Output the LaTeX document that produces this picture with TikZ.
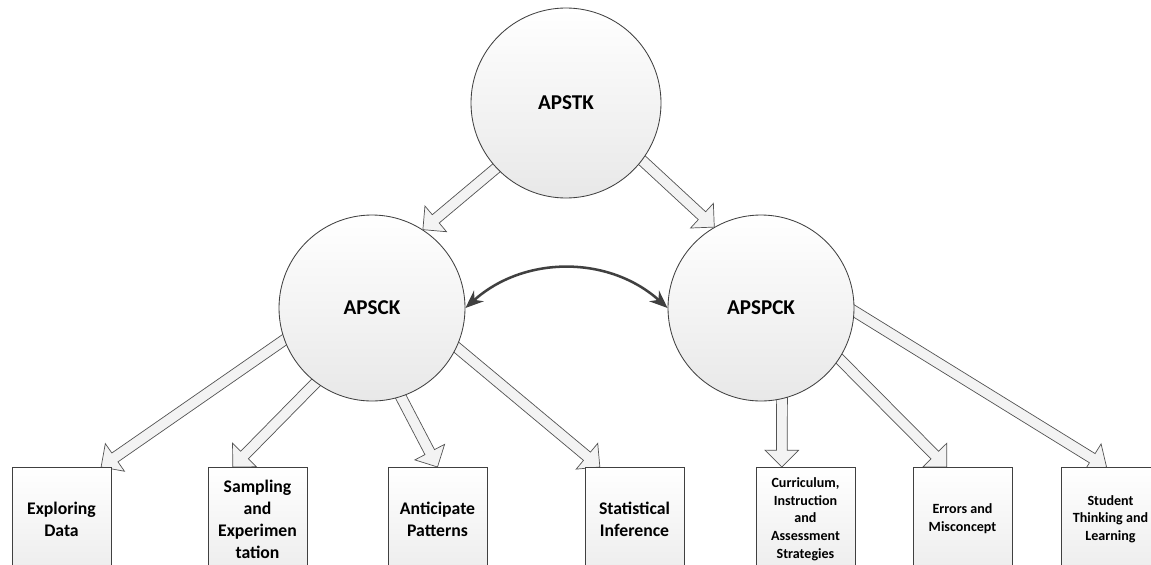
\documentclass[tikz,border=0pt]{standalone}
\usepackage{fontspec}
\setmainfont{Carlito}
\usepackage{tikz}
\usetikzlibrary{positioning,calc,backgrounds,arrows.meta}

\definecolor{edge}{HTML}{404040}
\definecolor{fillg}{HTML}{F3F3F3}

% hollow block arrow from #1 to #2
\newcommand{\hollowarrow}[2]{%
	\coordinate (ha) at #1;
	\coordinate (hb) at #2;
	\coordinate (hs) at ($(ha)!-0.1cm!(hb)$);
	\coordinate (hh) at ($(hb)!0.42cm!(ha)$);
	\draw[harrow] ($(hs)!0.135cm!90:(hb)$) -- ($(hh)!0.135cm!90:(hb)$) -- ($(hh)!0.42cm!90:(hb)$) -- (hb)
		-- ($(hh)!0.42cm!-90:(hb)$) -- ($(hh)!0.135cm!-90:(hb)$) -- ($(hs)!0.135cm!-90:(hb)$) -- cycle;
}

\begin{document}
\begin{tikzpicture}
	\tikzstyle{knode}=[circle,draw=edge,line width=0.6pt,minimum size=4.65cm,top color=white,bottom color=black!9,font=\fontsize{15}{18}\selectfont\bfseries]
	\tikzstyle{topic}=[rectangle,draw=edge,line width=0.6pt,outer sep=0pt,minimum width=2.475cm,minimum height=2.6cm,top color=white,bottom color=black!7,align=center,font=\fontsize{12.6}{15.7}\selectfont\bfseries]
	\tikzstyle{smalltext}=[font=\fontsize{10}{12.6}\selectfont\bfseries]
	\tikzstyle{harrow}=[draw=edge!90,line width=0.5pt,fill=fillg,line join=miter]
	\useasboundingbox (0,0) rectangle (28.775,14.1);
		\node[knode, minimum size=4.75cm] (apstk) at (14.15,11.525) {APSTK};
		\node[knode] (apsck) at (9.3,6.4) {APSCK};
		\node[knode] (apspck) at (19.025,6.4) {APSPCK};
		\node[topic] (explore) at (1.5375,1.125) {Exploring\\Data};
		\node[topic, right=2.425cm of explore] (sampling) {Sampling\\and\\Experimen\\tation};
		\node[topic, right=2.025cm of sampling] (anticip) {Anticipate\\Patterns};
		\node[topic, right=2.45cm of anticip] (infer) {Statistical\\Inference};
		\node[topic, smalltext, right=1.8cm of infer] (curric) {Curriculum,\\Instruction\\and\\Assessment\\Strategies};
		\node[topic, smalltext, right=1.45cm of curric] (errors) {Errors and\\Misconcept};
		\node[topic, smalltext, right=1.225cm of errors] (student) {Student\\Thinking and\\Learning};
			\draw[{Stealth[length=0.45cm,width=0.36cm]}-{Stealth[length=0.45cm,width=0.36cm]}, line width=1.8pt, draw=edge] (apsck.east) to[bend left=42] (apspck.west);
		\begin{pgfonlayer}{background}
			\hollowarrow{(apstk.223)}{(apsck.57)}
			\hollowarrow{(apstk.323)}{(apspck.120)}
			\hollowarrow{(apsck.200)}{($(explore.north west)!0.9!(explore.north east)$)}
			\hollowarrow{(apsck.233)}{($(sampling.north west)!0.25!(sampling.north east)$)}
			\hollowarrow{(apsck.288)}{(anticip.north)}
			\hollowarrow{(apsck.335)}{($(infer.north west)!0.15!(infer.north east)$)}
			\hollowarrow{(apspck.283)}{($(curric.north west)!0.26!(curric.north east)$)}
			\hollowarrow{(apspck.327)}{($(errors.north west)!0.34!(errors.north east)$)}
			\hollowarrow{(apspck.358)}{($(student.north west)!0.46!(student.north east)$)}
		\end{pgfonlayer}
\end{tikzpicture}
\end{document}
